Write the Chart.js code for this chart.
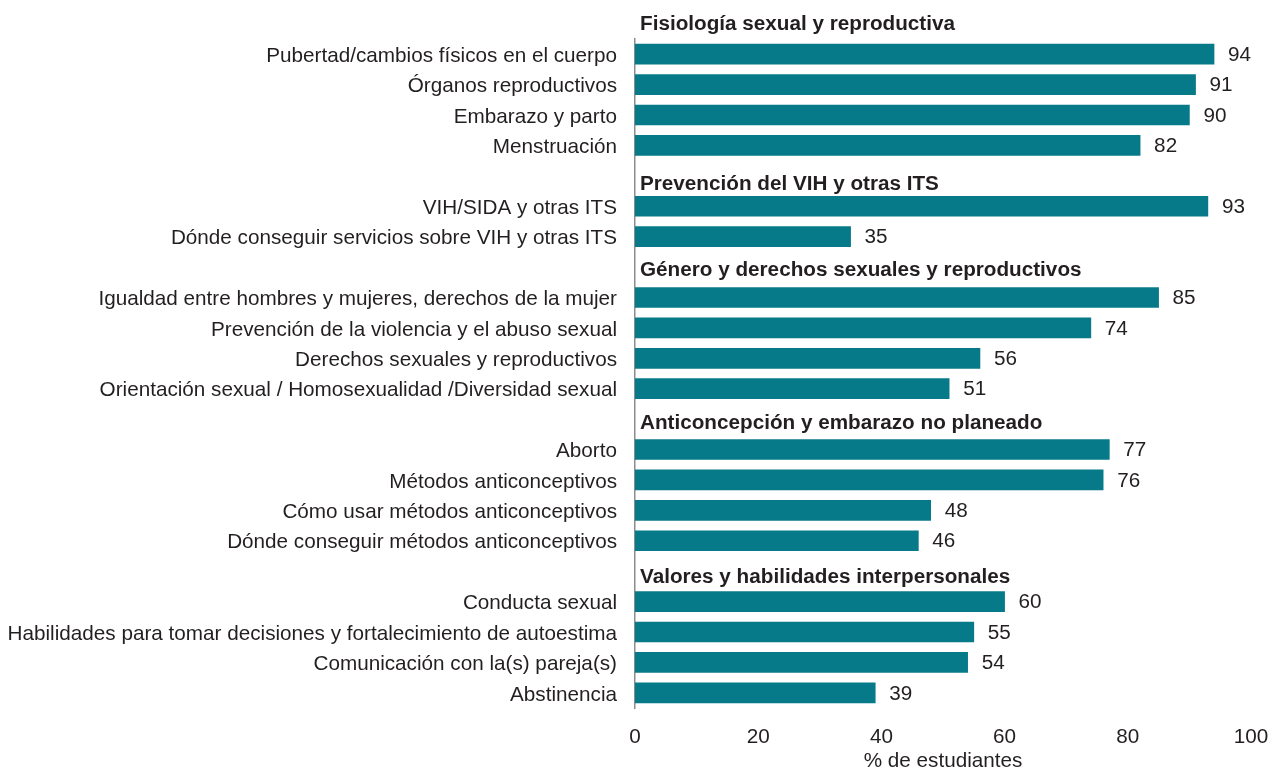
<!DOCTYPE html>
<html>
<head>
<meta charset="utf-8">
<script src="https://cdn.jsdelivr.net/npm/chart.js@4"></script>
<style>
  html, body { margin: 0; padding: 0; background: #fff; }
</style>
</head>
<body>
<canvas id="barChart" width="1272" height="769"></canvas>
<script>
const groupTitles = [
    'Fisiología sexual y reproductiva',
    'Prevención del VIH y otras ITS',
    'Género y derechos sexuales y reproductivos',
    'Anticoncepción y embarazo no planeado',
    'Valores y habilidades interpersonales'
];

const categories = [
    ['Pubertad/cambios físicos en el cuerpo', 'Órganos reproductivos', 'Embarazo y parto', 'Menstruación'],
    ['VIH/SIDA y otras ITS', 'Dónde conseguir servicios sobre VIH y otras ITS'],
    ['Igualdad entre hombres y mujeres, derechos de la mujer', 'Prevención de la violencia y el abuso sexual', 'Derechos sexuales y reproductivos', 'Orientación sexual / Homosexualidad /Diversidad sexual'],
    ['Aborto', 'Métodos anticonceptivos', 'Cómo usar métodos anticonceptivos', 'Dónde conseguir métodos anticonceptivos'],
    ['Conducta sexual', 'Habilidades para tomar decisiones y fortalecimiento de autoestima', 'Comunicación con la(s) pareja(s)', 'Abstinencia']
];

const values = [
    [94, 91, 90, 82],
    [93, 35],
    [85, 74, 56, 51],
    [77, 76, 48, 46],
    [60, 55, 54, 39]
];

const xTicks = [0, 20, 40, 60, 80, 100];
const xTitle = '% de estudiantes';

const textColor = '#231f20';
const barColor = '#077a89';
const fontFamily = '"Liberation Sans", Arial, sans-serif';
const fontSize = 20.7;

// flatten groups: every group gets a header row with no bar
var labels = [];
var data = [];
var headerRows = [];
for (var g = 0; g < groupTitles.length; g++) {
    headerRows.push(labels.length);
    labels.push(groupTitles[g]);
    data.push(null);
    for (var i = 0; i < categories[g].length; i++) {
        labels.push(categories[g][i]);
        data.push(values[g][i]);
    }
}

// small vertical nudges for the group titles, in px
const headerNudge = [0, 8, 3, 4, 6];

const labelsPlugin = {
    id: 'groupLabels',
    afterDatasetsDraw(chart) {
        const ctx = chart.ctx;
        const xScale = chart.scales.x;
        const yScale = chart.scales.y;
        ctx.save();
        ctx.fillStyle = textColor;
        ctx.textBaseline = 'middle';

        // group titles
        ctx.font = 'bold ' + fontSize + 'px ' + fontFamily;
        ctx.textAlign = 'left';
        headerRows.forEach(function(row, k) {
            ctx.fillText(labels[row], chart.chartArea.left + 5, yScale.getPixelForValue(row) + headerNudge[k]);
        });

        // value labels
        ctx.font = fontSize + 'px ' + fontFamily;
        data.forEach(function(v, row) {
            if (v === null) return;
            ctx.fillText(String(v), xScale.getPixelForValue(v) + 14, yScale.getPixelForValue(row) + 1);
        });
        ctx.restore();
    }
};

const ctx = document.getElementById('barChart').getContext('2d');
const myChart = new Chart(ctx, {
    type: 'bar',
    data: {
        labels: labels,
        datasets: [{
            data: data,
            backgroundColor: barColor,
            borderWidth: 0,
            barThickness: 20
        }]
    },
    options: {
        indexAxis: 'y',
        responsive: false,
        animation: false,
        layout: {
            padding: { top: 39, right: 21, left: 0, bottom: 0 }
        },
        plugins: {
            legend: { display: false },
            tooltip: { enabled: false }
        },
        scales: {
            y: {
                min: 1,
                grid: { display: false, drawTicks: false },
                border: { display: true, color: '#8c8c8c', width: 1.5 },
                afterFit: function(scale) { scale.width = 635; },
                ticks: {
                    padding: 18,
                    labelOffset: 2,
                    color: textColor,
                    font: { family: fontFamily, size: fontSize },
                    callback: function(value) {
                        return headerRows.indexOf(value) >= 0 ? '' : labels[value];
                    }
                }
            },
            x: {
                min: 0,
                max: 100,
                afterBuildTicks: function(scale) {
                    scale.ticks = xTicks.map(function(v) { return { value: v }; });
                },
                grid: { display: false, drawTicks: false },
                border: { display: false },
                afterFit: function(scale) {
                    scale.height = 61;
                    scale.paddingLeft = 0;
                    scale.paddingRight = 0;
                },
                ticks: {
                    padding: 17,
                    color: textColor,
                    font: { family: fontFamily, size: fontSize }
                },
                title: {
                    display: true,
                    text: xTitle,
                    color: textColor,
                    padding: { top: 0, bottom: -3 },
                    font: { family: fontFamily, size: fontSize, lineHeight: 1 }
                }
            }
        }
    },
    plugins: [labelsPlugin]
});
</script>
</body>
</html>
